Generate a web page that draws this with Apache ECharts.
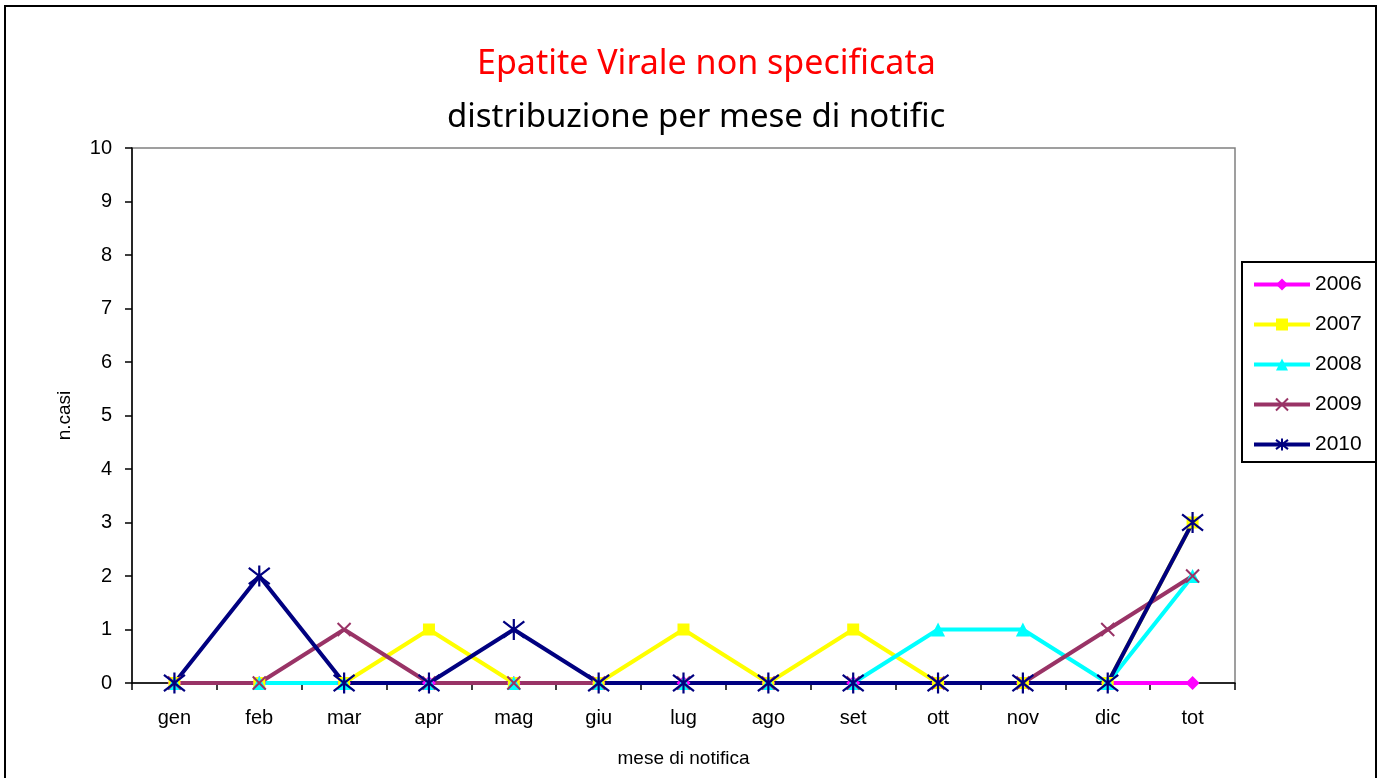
<!DOCTYPE html>
<html>
<head>
<meta charset="utf-8">
<title>Epatite Virale non specificata</title>
<script src="https://cdn.jsdelivr.net/npm/echarts@6/dist/echarts.min.js"></script>
<style>
  html, body { margin: 0; padding: 0; background: #ffffff; }
  #chart { width: 1377px; height: 778px; }
</style>
</head>
<body>
<div id="chart"></div>
<script>
// Months of notification plus the yearly total
const categories = ['gen', 'feb', 'mar', 'apr', 'mag', 'giu', 'lug', 'ago', 'set', 'ott', 'nov', 'dic', 'tot'];
const yTicks = [0, 1, 2, 3, 4, 5, 6, 7, 8, 9, 10];

// Cases per month, one array per year
const cases2006 = [0, 0, 0, 0, 0, 0, 0, 0, 0, 0, 0, 0, 0];
const cases2007 = [0, 0, 0, 1, 0, 0, 1, 0, 1, 0, 0, 0, 3];
const cases2008 = [0, 0, 0, 0, 0, 0, 0, 0, 0, 1, 1, 0, 2];
const cases2009 = [0, 0, 1, 0, 0, 0, 0, 0, 0, 0, 0, 1, 2];
const cases2010 = [0, 2, 0, 0, 1, 0, 0, 0, 0, 0, 0, 0, 3];

const titleFont = '"Comic Sans MS", "Noto Sans", "DejaVu Sans", sans-serif';
const axisFont = '"Liberation Sans", Arial, sans-serif';

const crossPath = 'path://M0,0L10,10M10,0L0,10';
const starPath = 'path://M0,0L10,10M10,0L0,10M5,-1.5L5,11.5';

function lineSeries(name, data, color, symbol, size, extraItem) {
  return {
    name: name,
    type: 'line',
    data: data,
    symbol: symbol,
    symbolSize: size,
    showAllSymbol: true,
    lineStyle: { color: color, width: 4 },
    itemStyle: Object.assign({ color: color, borderColor: color, borderWidth: 0 }, extraItem || {}),
    emphasis: { disabled: true },
    animation: false
  };
}

const chart = echarts.init(document.getElementById('chart'), null, { renderer: 'canvas' });

chart.setOption({
  backgroundColor: '#ffffff',
  animation: false,
  title: [
    {
      text: 'Epatite Virale non specificata',
      left: 472,
      top: 42,
      textStyle: { color: '#ff0000', fontFamily: titleFont, fontSize: 34, fontWeight: 'normal' }
    },
    {
      text: 'distribuzione per mese di notific',
      left: 442,
      top: 96,
      textStyle: { color: '#000000', fontFamily: titleFont, fontSize: 33, fontWeight: 'normal' }
    }
  ],
  graphic: [
    {
      type: 'rect',
      shape: { x: 5, y: 6, width: 1371, height: 776 },
      style: { fill: null, stroke: '#000000', lineWidth: 2 },
      silent: true,
      z: 100
    }
  ],
  legend: {
    orient: 'vertical',
    left: 1242,
    top: 262,
    padding: [12, 30, 7, 10],
    itemWidth: 56,
    itemHeight: 15,
    itemGap: 19,
    borderColor: '#000000',
    borderWidth: 2,
    lineStyle: { width: 4 },
    textStyle: { fontFamily: axisFont, fontSize: 21, lineHeight: 21, color: '#000000' },
    data: ['2006', '2007', '2008', '2009', '2010']
  },
  grid: {
    left: 132,
    top: 148,
    width: 1103,
    height: 535,
    show: true,
    borderColor: '#808080',
    borderWidth: 1.5,
    backgroundColor: '#ffffff'
  },
  xAxis: {
    type: 'category',
    data: categories,
    boundaryGap: true,
    name: 'mese di notifica',
    nameLocation: 'middle',
    nameGap: 66,
    nameTextStyle: { fontFamily: axisFont, fontSize: 19, color: '#000000' },
    axisLine: { lineStyle: { color: '#000000', width: 1.5 } },
    axisTick: { show: true, interval: 0, length: 7, lineStyle: { color: '#000000', width: 1.5 } },
    axisLabel: { interval: 0, margin: 25, fontFamily: axisFont, fontSize: 20, color: '#000000' },
    splitLine: { show: false }
  },
  yAxis: {
    type: 'value',
    min: yTicks[0],
    max: yTicks[yTicks.length - 1],
    interval: 1,
    name: 'n.casi',
    nameLocation: 'middle',
    nameGap: 58,
    nameRotate: 90,
    nameTextStyle: { fontFamily: axisFont, fontSize: 19, color: '#000000' },
    axisLine: { show: true, lineStyle: { color: '#000000', width: 1.5 } },
    axisTick: { show: true, length: 7, lineStyle: { color: '#000000', width: 1.5 } },
    axisLabel: { margin: 20, fontFamily: axisFont, fontSize: 20, color: '#000000' },
    splitLine: { show: false }
  },
  series: [
    lineSeries('2006', cases2006, '#ff00ff', 'diamond', 14),
    lineSeries('2007', cases2007, '#ffff00', 'rect', 12),
    lineSeries('2008', cases2008, '#00ffff', 'triangle', 14),
    lineSeries('2009', cases2009, '#993366', crossPath, 13, { color: 'rgba(0,0,0,0)', borderWidth: 2 }),
    lineSeries('2010', cases2010, '#000080', starPath, 21, { color: 'rgba(0,0,0,0)', borderWidth: 2.2 })
  ]
});
</script>
</body>
</html>
